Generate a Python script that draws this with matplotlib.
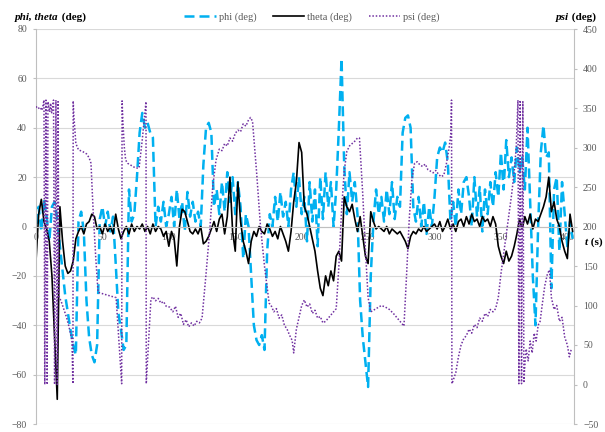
import matplotlib
matplotlib.use('Agg')
import matplotlib.pyplot as plt
from matplotlib.lines import Line2D
import numpy as np

plt.rcParams['font.family'] = 'Liberation Serif'

# phi and theta, sampled every 2 s (one row = 20 s)
phi = [
    -5, 8, -2, 11, 4, -6, 8, 10, 3, -8,
    -18, -28, -35, -42, -48, -52, 2, 6, -2, -30,
    -45, -52, -55, -48, 3, 8, 0, 6, -2, 4,
    -15, -35, -42, -50, -48, 15, 2, 5, 20, 38,
    46, 40, 42, 38, 36, 0, 8, 2, 10, 0,
    5, 12, 0, 15, 3, 10, -2, 14, 4, 10,
    2, 6, 0, 25, 40, 42, 38, 8, 15, 5,
    18, 6, 22, 10, 20, 5, 18, 8, -13, 5,
    0, -20, -40, -46, -48, -44, -50, -10, 5, 0,
    12, 2, 14, 4, 10, 0, 15, 22, 8, 20,
    5, 12, -6, 18, 2, 15, -8, 20, 3, 22,
    8, 18, 0, 15, 40, 68, 25, 5, 22, 10,
    18, 5, -30, -45, -55, -65, -20, 2, 15, 5,
    12, 2, 15, 5, 18, 3, 12, 8, 38, 44,
    45, 40, 8, 2, 12, 0, 10, -3, 8, 0,
    12, 28, 32, 30, 34, 26, 2, 10, 0, 15,
    5, 18, 20, 12, 0, 20, 4, 16, -2, 15,
    5, 18, 8, 22, 12, 30, 15, 35, 20, 28,
    18, 32, 22, 28, 15, 40, 10, -20, -40, 0,
    30, 41, 28, 30, -25, 15, 20, -10, 18, 5,
    -8, 2, -5,
]

theta = [
    -14, 5, 11, 2, -1, -6, -20, -45, -70, 8,
    -6, -16, -19, -18, -14, -5, -2, 0, -3, 1,
    2, 5, 4, -1, 0, -3, 1, -2, 0, -3,
    5, -1, -5, -2, 0, -3, 1, -2, 0, -1,
    1, -2, 0, -3, 1, -2, 0, -1, -4, -2,
    -8, -2, -5, -16, 0, 7, 6, 2, -2, -3,
    -1, -3, 0, -7, -6, -4, -1, 2, -2, 3,
    5, -3, 4, 20, -2, -10, 18, 2, -6, -10,
    -15, -6, -2, -4, 0, -2, -3, 1, -1, -4,
    -2, -5, 0, -3, -6, -10, -2, 10, 18, 34,
    30, 8, 5, 0, -5, -10, -18, -25, -28, -20,
    -24, -18, -22, -12, -10, -14, 12, 8, 6, 9,
    3, -2, 4, -4, -12, -15, 6, 2, -1, 0,
    -1, -2, 0, -3, -1, -2, -3, -2, -4, -6,
    -9, -4, -2, -3, -1, -2, 0, -2, -1, 0,
    1, -1, 2, -2, 0, 3, -1, 1, -2, 2,
    3, 0, 4, 1, 5, 2, 3, 0, 4, 2,
    3, 0, 4, 1, -8, -12, -15, -10, -14, -12,
    -8, -3, 3, -1, 4, 1, 5, -1, 3, 2,
    5, 8, 12, 20, 6, 10, 3, 0, -6, -10,
    -13, 5, -2,
]

# psi (t, deg) -- wraps between 0 and 360
psi_pts = [
    (0, 352), (1.5, 349), (3, 351), (4.5, 347), (5.5, 355), (6.0, 360),
    (6.6, 0), (7.5, 360), (8.4, 0), (9.0, 358),
    (9.6, 352), (10.3, 345), (11, 356), (11.8, 344), (12.5, 352), (13.2, 360),
    (14.0, 0), (15.0, 360), (16.0, 0), (16.6, 358),
    (17.2, 112), (19, 105), (21, 95), (23, 85), (25, 72), (27, 56),
    (27.8, 1), (28.0, 359), (28.5, 340), (30, 305), (32, 297), (35, 295),
    (38, 292), (40, 287), (41.4, 280), (43, 220), (45, 160), (46.7, 117),
    (48, 116), (52, 114), (56, 112), (60.3, 110), (64.5, 1), (64.8, 359),
    (65.5, 330), (66.5, 300), (67.5, 284), (69, 280), (72, 277), (75, 274),
    (77.6, 274), (80, 310), (82.8, 358), (83.0, 1), (86.5, 108), (88, 111),
    (90, 106), (92, 109), (94, 103), (96, 105), (98, 99), (100.5, 98),
    (103, 92), (105, 99), (107, 85), (109, 90), (111, 76), (113, 82),
    (115, 73), (117, 78), (119, 74), (121, 80), (123, 78), (125, 84),
    (128, 140), (131, 200), (133, 250), (135.5, 284), (138, 298), (140, 296),
    (142, 305), (144, 302), (146, 312), (148, 308), (150, 318), (152, 322),
    (154, 320), (156, 330), (158, 327), (160, 335), (161.5, 338), (163, 333),
    (166, 270), (169, 200), (172, 150), (175.5, 103), (177, 100), (179, 92),
    (181, 96), (183, 84), (185, 88), (187, 75), (189, 70), (191, 62),
    (192.8, 56), (194, 40), (196, 70), (198, 85), (200, 100), (202, 107),
    (204, 98), (206, 102), (208, 90), (210, 94), (212, 84), (214, 86),
    (216, 78), (218, 80), (220, 84), (222, 88), (224, 92), (226, 96),
    (228, 150), (230, 220), (232, 270), (234, 295), (236, 302), (238, 305),
    (240, 308), (242, 312), (243.5, 312), (246, 240), (248, 170), (250, 110),
    (252, 92), (254, 94), (257, 97), (260, 100), (263, 98), (266, 95),
    (269, 90), (272, 84), (275, 78), (277, 74), (279, 140), (281, 210),
    (283, 260), (285, 280), (287, 282), (289, 278), (291, 276), (293, 279),
    (295, 272), (297, 270), (299, 268), (301, 271), (303, 266), (305, 263),
    (307, 265), (309, 280), (311, 300), (312.3, 318), (312.8, 360), (313.1, 1),
    (314, 5), (316, 15), (318, 35), (320, 50), (322, 58), (324, 62),
    (326, 70), (328, 65), (330, 76), (332, 72), (334, 84), (336, 80),
    (338, 90), (340, 86), (342, 95), (344, 92), (346, 96), (348, 110),
    (350, 140), (352, 165), (354, 190), (356, 215), (358, 240), (360, 270),
    (361.5, 300), (362.4, 340), (362.8, 360), (363.5, 1), (364.5, 360),
    (365.5, 1), (366.5, 358), (367.3, 2),
    (367.8, 20), (369, 45), (370.5, 30), (372, 55), (373.5, 40), (375, 65),
    (376.5, 55), (378, 75), (379.5, 80), (381, 100), (383, 125), (385, 140),
    (386.5, 145), (388, 110), (390, 95), (392, 100), (394, 80), (396, 85),
    (398, 60), (400, 50), (401.5, 35), (403, 45),
]

t_grid = np.arange(len(phi)) * 2.0
psi_t, psi = zip(*psi_pts)

x_ticks = list(range(0, 401, 50))
left_ticks = list(range(-80, 81, 20))
right_ticks = list(range(-50, 451, 50))

GRAY_TXT = '#595959'
GRAY_LN = '#bfbfbf'
BLUE = '#00b0f0'
PURPLE = '#7030a0'

fig = plt.figure(figsize=(6.05, 4.32), dpi=100)
ax = fig.add_axes([36/605, 8/432, 538/605, 395/432])
ax.set_xlim(0, 405)
ax.set_ylim(-80, 80)
ax.set_xticks(x_ticks)
ax.set_yticks(left_ticks)
ax.yaxis.grid(True, color='#d9d9d9', lw=0.8)
ax.set_axisbelow(True)

for s in ['top', 'right']:
    ax.spines[s].set_visible(False)
ax.spines['left'].set_color(GRAY_LN)
ax.spines['bottom'].set_position(('data', 0))
ax.spines['bottom'].set_color(GRAY_LN)
ax.tick_params(axis='x', length=0, pad=5, labelcolor=GRAY_TXT, labelsize=7)
ax.tick_params(axis='y', direction='out', length=2.5, pad=4, color=GRAY_LN,
               labelcolor=GRAY_TXT, labelsize=7)

ax.plot(t_grid, phi, color=BLUE, lw=1.8, ls=(0, (4, 2)))
ax.plot(t_grid, theta, color='black', lw=1.2)

ax2 = ax.twinx()
ax2.set_ylim(-50, 450)
ax2.set_yticks(right_ticks)
for s in ['top', 'left', 'bottom']:
    ax2.spines[s].set_visible(False)
ax2.spines['right'].set_color(GRAY_LN)
ax2.tick_params(axis='y', direction='out', length=2.5, pad=4, color=GRAY_LN,
                labelcolor=GRAY_TXT, labelsize=7)
ax2.plot(psi_t, psi, color=PURPLE, lw=1.1, ls=(0, (1, 1.2)))

# legend across the top
handles = [Line2D([], [], color=BLUE, lw=1.8, ls=(0, (4, 2))),
           Line2D([], [], color='black', lw=1.2),
           Line2D([], [], color=PURPLE, lw=1.1, ls=(0, (1, 1.2)))]
leg = fig.legend(handles, ['phi (deg)', 'theta (deg)', 'psi (deg)'],
                 loc='center', bbox_to_anchor=(312/605, 1 - 17/432), ncol=3,
                 frameon=False, fontsize=7.5, handlelength=3, columnspacing=1.6,
                 handletextpad=0.3)
for txt in leg.get_texts():
    txt.set_color(GRAY_TXT)

# axis titles: italic variable names, upright units
t1 = fig.text(15/605, 1 - 17/432, 'phi, theta', fontsize=8, fontweight='bold',
              style='italic', va='center', ha='left')
ax.annotate(' (deg)', xy=(1, 0.5), xycoords=t1, fontsize=8, fontweight='bold',
            va='center', ha='left', annotation_clip=False)

t2 = fig.text(556/605, 1 - 17/432, 'psi', fontsize=8, fontweight='bold',
              style='italic', va='center', ha='left')
ax.annotate(' (deg)', xy=(1, 0.5), xycoords=t2, fontsize=8, fontweight='bold',
            va='center', ha='left', annotation_clip=False)

t3 = fig.text(585/605, 1 - 242/432, 't', fontsize=8, fontweight='bold',
              style='italic', va='center', ha='left')
ax.annotate(' (s)', xy=(1, 0.5), xycoords=t3, fontsize=8, fontweight='bold',
            va='center', ha='left', annotation_clip=False)

fig.savefig('out.png', dpi=100)
